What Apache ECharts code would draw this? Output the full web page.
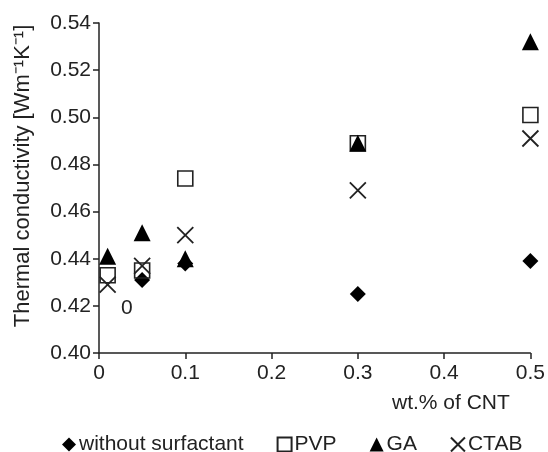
<!DOCTYPE html>
<html>
<head>
<meta charset="utf-8">
<script src="https://cdn.jsdelivr.net/npm/echarts@6/dist/echarts.min.js"></script>
<style>
  html, body { margin: 0; padding: 0; background: #fff; }
  #chart { width: 548px; height: 452px; }
</style>
</head>
<body>
<div id="chart"></div>
<script>
// wt.% of CNT
var xValues = [0.01, 0.05, 0.1, 0.3, 0.5];
// thermal conductivity per surfactant (null = no point drawn)
var noSurfactant = [null, 0.431, 0.438, 0.425, 0.439];
var pvp = [0.433, 0.435, 0.474, 0.489, 0.501];
var ga = [0.441, 0.451, 0.440, 0.489, 0.532];
var ctab = [0.429, 0.437, 0.450, 0.469, 0.491];
var seriesNames = ['without surfactant', 'PVP', 'GA', 'CTAB'];

var font = 'Liberation Sans, Arial, sans-serif';
var crossPath = 'path://M0,0L10,10M10,0L0,10';

function pairs(ys) {
    var out = [];
    xValues.forEach(function (x, i) {
        if (ys[i] != null) out.push([x, ys[i]]);
    });
    return out;
}

var chart = echarts.init(document.getElementById('chart'));

var option = {
    animation: false,
    grid: { left: 99, right: 14, top: 23, bottom: 99 },
    textStyle: { fontFamily: font },
    legend: {
        data: [
            { name: seriesNames[0], icon: 'diamond' },
            { name: seriesNames[1], icon: 'rect' },
            { name: seriesNames[2], icon: 'triangle' },
            { name: seriesNames[3], icon: crossPath }
        ],
        left: 57,
        top: 429,
        itemWidth: 14,
        itemHeight: 14,
        itemGap: 33,
        textStyle: { fontSize: 21, color: '#222', fontFamily: font, padding: [0, 0, 0, -2] }
    },
    xAxis: {
        type: 'value',
        min: 0,
        max: 0.5,
        interval: 0.1,
        splitLine: { show: false },
        axisLine: { lineStyle: { color: '#222', width: 1.5 } },
        axisTick: { lineStyle: { color: '#222', width: 1.5 }, length: 6 },
        axisLabel: { fontSize: 21, color: '#222', margin: 10, fontFamily: font }
    },
    yAxis: {
        type: 'value',
        min: 0.40,
        max: 0.54,
        interval: 0.02,
        name: 'Thermal conductivity [Wm⁻¹K⁻¹]',
        nameLocation: 'middle',
        nameGap: 65,
        nameTextStyle: { fontSize: 22, color: '#222', fontFamily: font, padding: [0, 0, 0, 24] },
        splitLine: { show: false },
        axisLine: { show: true, lineStyle: { color: '#222', width: 1.5 } },
        axisTick: { show: true, lineStyle: { color: '#222', width: 1.5 }, length: 6 },
        axisLabel: {
            fontSize: 21, color: '#222', margin: 8, fontFamily: font,
            formatter: function (v) { return v.toFixed(2); }
        }
    },
    graphic: [
        {
            type: 'text', left: 392, top: 393,
            style: { text: 'wt.% of CNT', font: '21px ' + font, fill: '#222' }
        },
        {
            type: 'text', left: 121, top: 298,
            style: { text: '0', font: '21px ' + font, fill: '#222' }
        }
    ],
    series: [
        {
            name: seriesNames[0], type: 'scatter', symbol: 'diamond', symbolSize: 16,
            itemStyle: { color: '#000', opacity: 1 },
            data: pairs(noSurfactant)
        },
        {
            name: seriesNames[1], type: 'scatter', symbol: 'rect', symbolSize: 15,
            itemStyle: { color: 'rgba(255,255,255,0)', borderColor: '#222', borderWidth: 1.6, opacity: 1 },
            data: pairs(pvp)
        },
        {
            name: seriesNames[2], type: 'scatter', symbol: 'triangle', symbolSize: 17,
            itemStyle: { color: '#000', opacity: 1 },
            data: pairs(ga)
        },
        {
            name: seriesNames[3], type: 'scatter', symbol: crossPath, symbolSize: 16,
            itemStyle: { color: 'rgba(0,0,0,0)', borderColor: '#222', borderWidth: 1.8, opacity: 1 },
            data: pairs(ctab)
        }
    ]
};

chart.setOption(option);
</script>
</body>
</html>
